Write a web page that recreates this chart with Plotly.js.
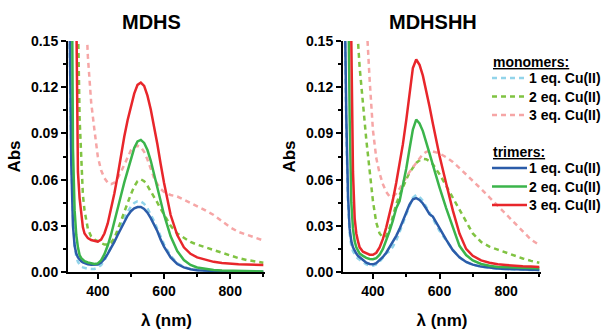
<!DOCTYPE html>
<html>
<head>
<meta charset="utf-8">
<script src="https://cdn.plot.ly/plotly-3.0.1.min.js"></script>
<style>html,body{margin:0;padding:0;background:#fff;}#chart{width:602px;height:330px;}</style>
</head>
<body>
<div id="chart"></div>
<script>
// wavelength grid (nm)
const wavelength = [310,315,320,325,330,335,340,345,350,355,360,370,380,390,400,410,420,430,440,450,460,470,480,490,500,510,520,530,540,550,560,570,580,590,600,620,640,660,680,700,725,750,775,800,825,850,875,900];

// ---- MDHS (left panel) ----
const mdhsMono1 = [0.30,0.15,0.075,0.036,0.018,0.010,0.0065,0.0045,0.0035,0.003,0.0026,0.0021,0.0019,0.002,0.0028,0.0045,0.0075,0.0115,0.016,0.0205,0.0255,0.0305,0.035,0.039,0.0425,0.0448,0.046,0.0458,0.0443,0.0413,0.0375,0.0330,0.0280,0.0228,0.0180,0.0105,0.0058,0.0033,0.002,0.0013,0.0008,0.0005,0.0004,0.0003,0.0002,0.0002,0.0001,0.0001];
const mdhsMono2 = [1.2,0.8,0.55,0.38,0.26,0.20,0.165,0.10,0.07,0.05,0.04,0.028,0.023,0.021,0.020,0.019,0.0178,0.0178,0.019,0.022,0.027,0.033,0.039,0.045,0.0505,0.0555,0.059,0.0602,0.059,0.056,0.0525,0.049,0.045,0.041,0.037,0.030,0.025,0.022,0.0195,0.0178,0.016,0.0142,0.0125,0.0105,0.009,0.0078,0.0067,0.006];
const mdhsMono3 = [2.0,1.5,1.1,0.8,0.6,0.45,0.36,0.3,0.25,0.215,0.19,0.14,0.11,0.092,0.075,0.066,0.061,0.058,0.057,0.058,0.061,0.065,0.070,0.075,0.079,0.081,0.082,0.081,0.078,0.073,0.067,0.061,0.057,0.054,0.052,0.050,0.049,0.047,0.045,0.043,0.040,0.037,0.033,0.029,0.026,0.024,0.022,0.0205];
const mdhsTri1 = [0.35,0.16,0.07,0.03,0.017,0.012,0.0095,0.008,0.007,0.0063,0.0058,0.005,0.0047,0.0046,0.0048,0.0062,0.0085,0.0118,0.0155,0.0195,0.024,0.0285,0.033,0.0365,0.0395,0.0413,0.0422,0.0422,0.041,0.0385,0.035,0.031,0.0265,0.021,0.0165,0.0095,0.0052,0.003,0.0018,0.0012,0.0008,0.0006,0.0004,0.0003,0.0002,0.0002,0.0001,0.0001];
const mdhsTri2 = [0.6,0.4,0.2,0.08,0.04,0.024,0.016,0.011,0.009,0.008,0.007,0.0062,0.0055,0.0052,0.0056,0.0076,0.0116,0.0172,0.0242,0.0322,0.041,0.0497,0.0582,0.066,0.0742,0.0805,0.0848,0.0858,0.0838,0.0792,0.0722,0.0638,0.0548,0.0458,0.0372,0.0232,0.0136,0.0078,0.0046,0.0029,0.0019,0.0013,0.001,0.0008,0.0006,0.0005,0.0004,0.0004];
const mdhsTri3 = [0.9,0.7,0.5,0.38,0.28,0.17,0.065,0.048,0.037,0.029,0.025,0.022,0.0208,0.0201,0.0197,0.021,0.025,0.0315,0.0405,0.051,0.0625,0.0765,0.088,0.0985,0.1075,0.1158,0.1215,0.123,0.1208,0.1145,0.1055,0.095,0.083,0.070,0.058,0.037,0.024,0.016,0.0118,0.0095,0.0078,0.0066,0.0058,0.0053,0.005,0.0048,0.0046,0.0045];

// ---- MDHSHH (right panel) ----
const mdhshhMono1 = [0.33,0.17,0.09,0.045,0.025,0.017,0.0135,0.0112,0.0098,0.0088,0.008,0.0062,0.0049,0.0043,0.0041,0.005,0.0068,0.0093,0.0122,0.0135,0.0165,0.0205,0.0255,0.0315,0.0375,0.0432,0.0482,0.050,0.0488,0.0462,0.0428,0.0385,0.0345,0.0305,0.0268,0.0205,0.0144,0.0095,0.0064,0.0046,0.0034,0.0026,0.0021,0.0018,0.0016,0.0014,0.0013,0.0012];
const mdhshhMono2 = [3.0,2.0,1.0,0.7,0.5,0.38,0.28,0.22,0.18,0.15,0.133,0.108,0.086,0.066,0.046,0.032,0.025,0.0225,0.0235,0.0285,0.037,0.044,0.050,0.0555,0.060,0.0645,0.068,0.0708,0.0725,0.0735,0.0732,0.072,0.070,0.067,0.0635,0.056,0.048,0.040,0.032,0.025,0.0195,0.0165,0.0145,0.0125,0.0105,0.0088,0.0072,0.006];
const mdhshhMono3 = [5.0,3.5,2.5,1.8,1.3,1.0,0.75,0.6,0.45,0.36,0.3,0.22,0.165,0.125,0.092,0.074,0.064,0.057,0.052,0.049,0.049,0.051,0.054,0.058,0.062,0.065,0.068,0.071,0.074,0.0765,0.078,0.0785,0.0783,0.0778,0.077,0.0745,0.0715,0.0675,0.0635,0.0595,0.054,0.0485,0.043,0.037,0.0315,0.026,0.021,0.0175];
const mdhshhTri1 = [0.35,0.18,0.10,0.05,0.028,0.02,0.016,0.0135,0.012,0.0105,0.0095,0.0075,0.006,0.0052,0.005,0.0058,0.0075,0.0098,0.0125,0.016,0.0195,0.0235,0.028,0.0335,0.039,0.0438,0.0472,0.048,0.0468,0.0445,0.0412,0.0375,0.036,0.032,0.028,0.021,0.0142,0.0095,0.0065,0.0048,0.0035,0.0027,0.0022,0.0019,0.0017,0.0015,0.0014,0.0013];
const mdhshhTri2 = [0.6,0.4,0.25,0.2,0.1,0.045,0.028,0.02,0.016,0.0138,0.012,0.0105,0.0092,0.0085,0.0083,0.009,0.0112,0.015,0.0205,0.0265,0.0335,0.0415,0.046,0.056,0.067,0.080,0.0925,0.099,0.0965,0.0915,0.0848,0.077,0.0695,0.062,0.055,0.0415,0.0285,0.017,0.011,0.0075,0.0052,0.004,0.0033,0.003,0.0028,0.0027,0.0026,0.0025];
const mdhshhTri3 = [0.8,0.6,0.45,0.35,0.25,0.15,0.065,0.035,0.025,0.02,0.016,0.0132,0.012,0.0112,0.0112,0.0125,0.016,0.0215,0.029,0.0375,0.047,0.058,0.0695,0.083,0.0985,0.116,0.1325,0.138,0.1345,0.1275,0.118,0.1075,0.0965,0.0855,0.0755,0.0575,0.040,0.025,0.015,0.0105,0.0075,0.006,0.005,0.0045,0.004,0.0037,0.0035,0.0033];

const seriesNames = ['1 eq. Cu(II)','2 eq. Cu(II)','3 eq. Cu(II)'];
const monoColors = ['#92d4ea','#80c342','#f6a6a6'];
const triColors = ['#2b5ca9','#3bb44b','#e8262b'];
const groupTitles = ['monomers:','trimers:'];
const panelTitles = ['MDHS','MDHSHH'];
const xTitle = 'λ (nm)';
const yTitle = 'Abs';

const FONT = 'Liberation Sans, Arial, Helvetica, sans-serif';
const dashPat = '5px,4px';
const traces = [];
const left = {mono:[mdhsMono1,mdhsMono2,mdhsMono3], tri:[mdhsTri1,mdhsTri2,mdhsTri3]};
const right = {mono:[mdhshhMono1,mdhshhMono2,mdhshhMono3], tri:[mdhshhTri1,mdhshhTri2,mdhshhTri3]};

// dashed monomers drawn first, solid trimers on top
[[left,'x','y'],[right,'x2','y2']].forEach(([p,xa,ya]) => {
  for (let i=0;i<3;i++) {
    traces.push({x:wavelength, y:p.mono[i], xaxis:xa, yaxis:ya, mode:'lines', name:'monomers '+seriesNames[i],
      line:{color:monoColors[i], width:2.5, dash:dashPat}, showlegend:false, hoverinfo:'skip'});
  }
});
[[left,'x','y'],[right,'x2','y2']].forEach(([p,xa,ya]) => {
  for (let i=0;i<3;i++) {
    traces.push({x:wavelength, y:p.tri[i], xaxis:xa, yaxis:ya, mode:'lines', name:'trimers '+seriesNames[i],
      line:{color:triColors[i], width:2.5}, showlegend:false, hoverinfo:'skip'});
  }
});

const W = 602, H = 330;
function xAxis(domain) {
  return {domain:domain, range:[310,905], tick0:0, dtick:200, ticks:'outside', ticklen:5, tickwidth:2, tickcolor:'#000',
    minor:{dtick:100, ticks:'outside', ticklen:3, tickwidth:2, tickcolor:'#000'},
    showline:true, linewidth:2, linecolor:'#000', showgrid:false, zeroline:false,
    tickfont:{family:FONT, size:14, weight:700, color:'#000'},
    title:{text:xTitle, font:{family:FONT, size:17, weight:700, color:'#000'}, standoff:16}};
}
function yAxis(domain, anchor) {
  return {domain:domain, anchor:anchor, range:[0,0.15], tick0:0, dtick:0.03, tickformat:'.2f', ticks:'outside', ticklen:5, tickwidth:2, tickcolor:'#000',
    minor:{dtick:0.015, ticks:'outside', ticklen:3, tickwidth:2, tickcolor:'#000'},
    showline:true, linewidth:2, linecolor:'#000', showgrid:false, zeroline:false,
    tickfont:{family:FONT, size:14, weight:700, color:'#000'},
    title:{text:yTitle, font:{family:FONT, size:17, weight:700, color:'#000'}, standoff:6}};
}

// hand-built legend (two groups with underlined headers)
const shapes = [], annotations = [];
const legendGroups = [
  {title:groupTitles[0], titleY:62, rowY:[78,96.5,115], colors:monoColors, dash:dashPat},
  {title:groupTitles[1], titleY:152, rowY:[168,186.5,205], colors:triColors, dash:'solid'}
];
const lx0 = 492, lx1 = 527, tx = 527;
legendGroups.forEach(g => {
  annotations.push({text:'<u>'+g.title+'</u>', xref:'paper', yref:'paper', x:(lx0-1)/W, y:1-g.titleY/H,
    xanchor:'left', yanchor:'middle', showarrow:false, font:{family:FONT, size:14, weight:700, color:'#000'}});
  for (let i=0;i<3;i++) {
    shapes.push({type:'line', xref:'paper', yref:'paper', x0:lx0/W, x1:lx1/W, y0:1-g.rowY[i]/H, y1:1-g.rowY[i]/H,
      line:{color:g.colors[i], width:2.5, dash:g.dash}});
    annotations.push({text:seriesNames[i], xref:'paper', yref:'paper', x:tx/W, y:1-g.rowY[i]/H,
      xanchor:'left', yanchor:'middle', showarrow:false, font:{family:FONT, size:14, weight:700, color:'#000'}});
  }
});
annotations.push({text:panelTitles[0], xref:'paper', yref:'paper', x:151/W, y:1-22/H, xanchor:'center', yanchor:'middle', showarrow:false,
  font:{family:FONT, size:20, weight:700, color:'#000'}});
annotations.push({text:panelTitles[1], xref:'paper', yref:'paper', x:433/W, y:1-22/H, xanchor:'center', yanchor:'middle', showarrow:false,
  font:{family:FONT, size:20, weight:700, color:'#000'}});

const yDom = [1-272/H, 1-41/H];
const layout = {
  width:W, height:H, margin:{l:0,r:0,t:0,b:0}, paper_bgcolor:'#fff', plot_bgcolor:'#fff',
  font:{family:FONT, color:'#000'}, showlegend:false,
  xaxis: Object.assign(xAxis([68/W, 265/W]), {anchor:'y'}),
  yaxis: yAxis(yDom, 'x'),
  xaxis2: Object.assign(xAxis([343/W, 541/W]), {anchor:'y2'}),
  yaxis2: yAxis(yDom, 'x2'),
  shapes: shapes,
  annotations: annotations
};
Plotly.newPlot('chart', traces, layout, {staticPlot:true, displayModeBar:false});
</script>
</body>
</html>
